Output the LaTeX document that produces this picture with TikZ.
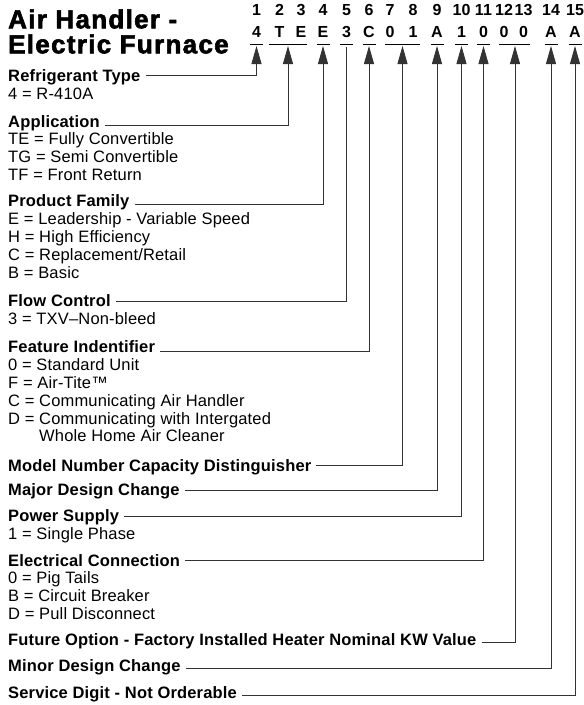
\documentclass[tikz,border=0pt]{standalone}
\usepackage{fontspec}
\setmainfont{Liberation Sans}[LetterSpace=1]
\newfontfamily\titlefont{Liberation Sans}[LetterSpace=5, BoldFeatures={FakeBold=2.2}]
\usetikzlibrary{arrows.meta}
\begin{document}
\begin{tikzpicture}[x=1pt,y=-1pt,
  lab/.style={anchor=base west, inner sep=0pt, font=\fontsize{16.5}{18}\selectfont\bfseries},
  opt/.style={anchor=base west, inner sep=0pt, font=\fontsize{16.5}{18}\selectfont},
  ttl/.style={anchor=base west, inner sep=0pt, font=\titlefont\fontsize{26}{28}\selectfont\bfseries},
  hdr/.style={anchor=base, inner sep=0pt, font=\fontsize{16}{18}\selectfont\bfseries},
  conn/.style={draw=black!80, line width=0.8pt},
  tip/.style={-{Triangle[length=18pt,width=10pt]}},
  uline/.style={draw=black, line width=1.2pt}]

\fill[white] (0,0) rectangle (584,705);
\useasboundingbox (0,0) rectangle (584,705);

% title
\node[ttl] (title1) at (8,28.3) {Air Handler -};
\node[ttl] (title2) at (8,53.3) {Electric Furnace};

% header digits and letters
\foreach \n/\x/\v in {1/256.5/4, 2/279.5/T, 3/301/E, 4/323/E, 5/346.5/3, 6/369/C, 7/390/0, 8/413/1, 9/437/A, 10/461.5/1, 11/483.5/0, 12/504/0, 13/523.5/0, 14/551/A, 15/575/A} {
  \node[hdr] (n\n) at (\x,15.5) {\n};
  \node[hdr] (v\n) at (\x,37) {\v};
}

% underlines
\foreach \a/\b in {250/263, 269/307, 316.5/329.5, 340/353, 362.5/375.5, 385/420, 430.5/443.5, 455/468, 477/490, 499/530, 544.5/557.5, 568.5/581.5} {
  \draw[uline] (\a,44.5) -- (\b,44.5);
}

% arrow targets
\coordinate (t1) at (256.5,46);
\coordinate (t23) at (288,46);
\coordinate (t4) at (323,46);
\coordinate (t5) at (346.5,47);
\coordinate (t6) at (369,46);
\coordinate (t78) at (402.5,46);
\coordinate (t9) at (437,46);
\coordinate (t10) at (461.5,46);
\coordinate (t11) at (483.5,46);
\coordinate (t1213) at (515,46);
\coordinate (t14) at (551,46);
\coordinate (t15) at (575,46);

% labels and options
\node[lab] (L1) at (8,81.5) {Refrigerant Type};
\node[opt] (o1a) at (8,99.5) {4 = R-410A};

\node[lab] (L2) at (8,127) {Application};
\node[opt] (o2a) at (8,144.5) {TE = Fully Convertible};
\node[opt] (o2b) at (8,162.3) {TG = Semi Convertible};
\node[opt] (o2c) at (8,180) {TF = Front Return};

\node[lab] (L3) at (8,206.5) {Product Family};
\node[opt] (o3a) at (8,224.5) {E = Leadership - Variable Speed};
\node[opt] (o3b) at (8,242.3) {H = High Efficiency};
\node[opt] (o3c) at (8,260) {C = Replacement/Retail};
\node[opt] (o3d) at (8,278) {B = Basic};

\node[lab] (L4) at (8,306.5) {Flow Control};
\node[opt] (o4a) at (8,324.5) {3 = TXV–Non-bleed};

\node[lab] (L5) at (8,352.5) {Feature Indentifier};
\node[opt] (o5a) at (8,370.5) {0 = Standard Unit};
\node[opt] (o5b) at (8,388.3) {F = Air-Tite™};
\node[opt] (o5c) at (8,406) {C = Communicating Air Handler};
\node[opt] (o5d) at (8,424) {D = Communicating with Intergated};
\node[opt] (o5e) at (8,441.7) {\phantom{D = }Whole Home Air Cleaner};

\node[lab] (L6) at (8,471) {Model Number Capacity Distinguisher};
\node[lab] (L7) at (8,495) {Major Design Change};

\node[lab] (L8) at (8,521.5) {Power Supply};
\node[opt] (o8a) at (8,539.3) {1 = Single Phase};

\node[lab] (L9) at (8,566) {Electrical Connection};
\node[opt] (o9a) at (8,583.5) {0 = Pig Tails};
\node[opt] (o9b) at (8,601.5) {B = Circuit Breaker};
\node[opt] (o9c) at (8,619.3) {D = Pull Disconnect};

\node[lab] (L10) at (8,645.5) {Future Option - Factory Installed Heater Nominal KW Value};
\node[lab] (L11) at (8,671.5) {Minor Design Change};
\node[lab] (L12) at (8,698) {Service Digit - Not Orderable};

% connectors
\draw[conn,tip] ([shift={(5,-5.7)}]L1.base east) -| (t1);
\draw[conn,tip] ([shift={(5,-1.5)}]L2.base east) -| (t23);
\draw[conn,tip] ([shift={(5,-2.5)}]L3.base east) -| (t4);
\draw[conn] ([shift={(5,-5.5)}]L4.base east) -| (t5);
\draw[conn,tip] ([shift={(5,-1.5)}]L5.base east) -| (t6);
\draw[conn,tip] ([shift={(5,-5.7)}]L6.base east) -| (t78);
\draw[conn,tip] ([shift={(5,-4.3)}]L7.base east) -| (t9);
\draw[conn,tip] ([shift={(5,-5)}]L8.base east) -| (t10);
\draw[conn,tip] ([shift={(5,-5.3)}]L9.base east) -| (t11);
\draw[conn,tip] ([shift={(5,-3)}]L10.base east) -| (t1213);
\draw[conn,tip] ([shift={(5,-2.7)}]L11.base east) -| (t14);
\draw[conn,tip] ([shift={(5,-3)}]L12.base east) -| (t15);
\end{tikzpicture}
\end{document}
